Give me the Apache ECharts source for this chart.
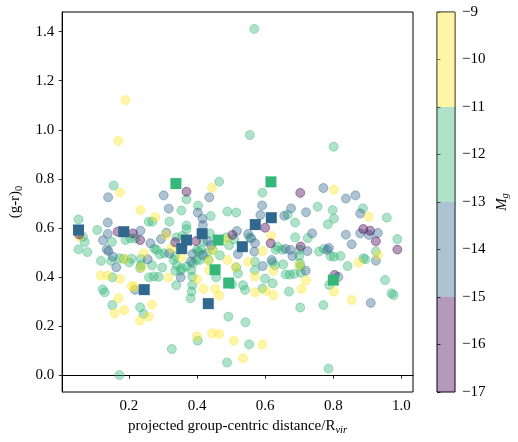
<!DOCTYPE html>
<html>
<head>
<meta charset="utf-8">
<title>colour vs distance</title>
<script src="https://cdn.jsdelivr.net/npm/echarts@6/dist/echarts.min.js"></script>
<style>
  html, body { margin: 0; padding: 0; background: #fff; }
  #chart { width: 518px; height: 442px; }
</style>
</head>
<body>
<div id="chart"></div>
<script>
// galaxies, [distance / Rvir, (g-r)_0], one array per M_g bin
const galBright = [ // -17 .. -15
  [0.369,0.748],[0.703,0.743],[0.054,0.574],[0.167,0.585],[0.212,0.578],[0.233,0.551],[0.336,0.542],
  [0.397,0.547],[0.504,0.572],[0.600,0.601],[0.616,0.538],[0.704,0.525],[0.804,0.409],[0.888,0.596],
  [0.908,0.589],[0.925,0.546],[0.988,0.512]
];
const galMid = [ // -15 .. -13
  [0.139,0.725],[0.302,0.733],[0.436,0.725],[0.771,0.763],[0.837,0.720],[0.865,0.733],
  [0.138,0.622],[0.138,0.576],[0.234,0.589],[0.124,0.550],[0.135,0.513],[0.140,0.506],[0.153,0.483],
  [0.163,0.440],[0.317,0.679],[0.402,0.663],[0.416,0.638],[0.417,0.612],[0.294,0.555],[0.310,0.581],
  [0.263,0.538],[0.255,0.473],[0.319,0.497],[0.352,0.399],[0.218,0.348],[0.382,0.463],[0.387,0.494],
  [0.441,0.530],[0.431,0.547],[0.517,0.588],[0.550,0.576],[0.570,0.538],[0.586,0.653],[0.591,0.692],
  [0.568,0.504],[0.593,0.445],[0.619,0.470],[0.656,0.650],[0.676,0.680],[0.720,0.664],[0.738,0.578],
  [0.680,0.486],[0.724,0.506],[0.660,0.515],[0.719,0.426],[0.787,0.519],[0.782,0.511],[0.815,0.401],
  [0.837,0.573],[0.854,0.534],[0.879,0.659],[0.879,0.578],[0.905,0.572],[0.931,0.580],[0.925,0.467],
  [0.910,0.295],[0.559,0.558],[0.520,0.494],[0.674,0.511],[0.417,0.490]
];
const galFaint = [ // -13 .. -11
  [0.568,1.411],[0.555,0.979],[0.801,0.931],[0.155,0.773],[0.369,0.717],[0.465,0.789],[0.592,0.744],
  [0.052,0.635],[0.065,0.565],[0.070,0.543],[0.052,0.513],[0.078,0.502],[0.107,0.592],[0.150,0.543],
  [0.118,0.466],[0.148,0.466],[0.152,0.399],[0.123,0.350],[0.129,0.338],[0.151,0.286],[0.172,0.001],
  [0.190,0.551],[0.185,0.474],[0.201,0.460],[0.218,0.557],[0.258,0.626],[0.269,0.626],[0.319,0.626],
  [0.354,0.671],[0.369,0.610],[0.369,0.595],[0.340,0.562],[0.208,0.475],[0.235,0.474],[0.275,0.516],
  [0.281,0.511],[0.291,0.493],[0.304,0.497],[0.335,0.486],[0.233,0.437],[0.268,0.448],[0.259,0.399],
  [0.273,0.403],[0.287,0.401],[0.298,0.439],[0.336,0.426],[0.352,0.426],[0.339,0.367],[0.386,0.368],
  [0.384,0.341],[0.381,0.314],[0.233,0.277],[0.243,0.250],[0.326,0.107],[0.383,0.429],[0.386,0.402],
  [0.408,0.470],[0.402,0.141],[0.400,0.511],[0.412,0.511],[0.403,0.691],[0.440,0.649],[0.419,0.544],
  [0.434,0.470],[0.456,0.399],[0.467,0.489],[0.503,0.371],[0.489,0.667],[0.515,0.663],[0.486,0.562],
  [0.494,0.530],[0.515,0.440],[0.520,0.415],[0.492,0.239],[0.542,0.216],[0.553,0.126],[0.488,0.052],
  [0.554,0.562],[0.570,0.463],[0.570,0.429],[0.600,0.394],[0.592,0.354],[0.622,0.375],[0.535,0.367],
  [0.541,0.348],[0.621,0.460],[0.629,0.448],[0.666,0.654],[0.688,0.622],[0.754,0.687],[0.688,0.562],
  [0.725,0.559],[0.700,0.486],[0.701,0.511],[0.650,0.511],[0.636,0.524],[0.653,0.452],[0.702,0.456],
  [0.703,0.443],[0.660,0.411],[0.672,0.410],[0.685,0.413],[0.705,0.418],[0.670,0.341],[0.703,0.276],
  [0.758,0.504],[0.772,0.515],[0.792,0.486],[0.802,0.483],[0.784,0.615],[0.798,0.673],[0.802,0.638],
  [0.788,0.368],[0.771,0.286],[0.786,0.027],[0.887,0.680],[0.957,0.642],[0.988,0.555],[0.925,0.504],
  [0.888,0.477],[0.894,0.473],[0.842,0.445],[0.952,0.388],[0.971,0.334],[0.977,0.327],
  [0.438,0.578],[0.509,0.554],[0.204,0.558],[0.403,0.504],[0.427,0.497],[0.446,0.511],[0.388,0.456],
  [0.398,0.470],[0.331,0.470],[0.340,0.449],[0.235,0.449],[0.355,0.436],[0.369,0.443],[0.631,0.511],
  [0.821,0.486],[0.357,0.568],[0.172,0.477]
];
const galDwarf = [ // -11 .. -9
  [0.190,1.121],[0.169,0.955],[0.174,0.745],[0.444,0.764],[0.802,0.756],[0.054,0.565],
  [0.117,0.406],[0.138,0.406],[0.174,0.392],[0.169,0.314],[0.158,0.253],[0.186,0.266],[0.188,0.474],
  [0.234,0.673],[0.277,0.644],[0.243,0.497],[0.325,0.517],[0.354,0.481],[0.309,0.572],[0.236,0.439],
  [0.316,0.398],[0.208,0.364],[0.216,0.360],[0.268,0.288],[0.258,0.239],[0.232,0.223],[0.400,0.391],
  [0.419,0.352],[0.400,0.158],[0.445,0.508],[0.435,0.467],[0.435,0.429],[0.453,0.352],[0.465,0.325],
  [0.486,0.554],[0.489,0.470],[0.513,0.440],[0.444,0.171],[0.465,0.168],[0.508,0.141],[0.535,0.069],
  [0.618,0.568],[0.592,0.506],[0.570,0.402],[0.551,0.462],[0.571,0.338],[0.602,0.344],[0.624,0.326],
  [0.592,0.125],[0.623,0.426],[0.700,0.448],[0.720,0.387],[0.707,0.352],[0.802,0.341],[0.904,0.646],
  [0.931,0.490],[0.874,0.459],[0.854,0.307]
];
// square markers
const sqMid = [
  [0.052,0.592],[0.185,0.585],[0.369,0.551],[0.355,0.516],[0.415,0.577],[0.533,0.524],[0.571,0.614],
  [0.618,0.642],[0.245,0.349],[0.433,0.292]
];
const sqFaint = [
  [0.338,0.781],[0.617,0.788],[0.462,0.551],[0.453,0.430],[0.493,0.376],[0.800,0.388]
];

const magEdges = [-17, -15, -13, -11, -9];
const rTicks = [0.2, 0.4, 0.6, 0.8, 1.0];
const grTicks = [0.0, 0.2, 0.4, 0.6, 0.8, 1.0, 1.2, 1.4];
const viridis4 = ['#440154', '#31688e', '#35b779', '#fde725'];

const FONT = '"Liberation Serif", "DejaVu Serif", serif';
const INK = '#000';

const chart = echarts.init(document.getElementById('chart'), null, { renderer: 'canvas' });

function circles(data, color) {
  return {
    type: 'scatter', xAxisIndex: 0, yAxisIndex: 0, data: data,
    symbol: 'circle', symbolSize: 9, silent: true,
    itemStyle: { color: color, borderColor: color, borderWidth: 1, opacity: 0.4 }
  };
}
function squares(data, color) {
  return {
    type: 'scatter', xAxisIndex: 0, yAxisIndex: 0, data: data,
    symbol: 'rect', symbolSize: 11, silent: true, z: 5,
    itemStyle: { color: color, opacity: 1 }
  };
}

const tickStyle = { show: true, inside: false, length: 3.5, lineStyle: { color: INK, width: 0.8 } };
const labelFont = { fontFamily: FONT, fontSize: 15, color: INK };

chart.setOption({
  animation: false,
  backgroundColor: '#fff',
  grid: [
    { left: 56, top: 12, width: 357, height: 380, show: true, borderColor: INK, borderWidth: 1, backgroundColor: 'transparent' },
    { left: 437, top: 12, width: 18, height: 380, show: true, borderColor: INK, borderWidth: 1, backgroundColor: 'transparent' }
  ],
  xAxis: [
    {
      gridIndex: 0, type: 'value', min: 0.004, max: 1.034,
      splitLine: { show: false },
      axisLine: { show: true, lineStyle: { color: INK, width: 1 } },
      axisTick: Object.assign({ customValues: rTicks }, tickStyle),
      axisLabel: Object.assign({ customValues: rTicks, margin: 7, formatter: v => v.toFixed(1) }, labelFont),
      name: '{a|projected group-centric distance/R}{s|vir}',
      nameLocation: 'middle', nameGap: 16,
      nameTextStyle: {
        rich: {
          a: { fontFamily: FONT, fontSize: 15, color: INK, lineHeight: 18 },
          s: { fontFamily: FONT, fontSize: 10.5, fontStyle: 'italic', color: INK, lineHeight: 11, verticalAlign: 'bottom' }
        }
      }
    },
    { gridIndex: 1, type: 'value', min: 0, max: 1, show: false }
  ],
  yAxis: [
    {
      gridIndex: 0, type: 'value', min: -0.068, max: 1.48,
      splitLine: { show: false },
      axisLine: { show: true, lineStyle: { color: INK, width: 1 } },
      axisTick: Object.assign({ customValues: grTicks }, tickStyle),
      axisLabel: Object.assign({ customValues: grTicks, margin: 8, formatter: v => v.toFixed(1) }, labelFont),
      name: '{a|(g-r)}{s|0}',
      nameLocation: 'middle', nameRotate: 90, nameGap: 37,
      nameTextStyle: {
        rich: {
          a: { fontFamily: FONT, fontSize: 15, color: INK, lineHeight: 18 },
          s: { fontFamily: FONT, fontSize: 10.5, color: INK, lineHeight: 11, verticalAlign: 'bottom' }
        }
      }
    },
    {
      gridIndex: 1, type: 'value', position: 'right', min: -17, max: -9, interval: 1,
      splitLine: { show: false },
      axisLine: { show: false },
      axisTick: tickStyle,
      axisLabel: Object.assign({ margin: 7, formatter: v => (v < 0 ? '\u2212' : '') + Math.abs(v) }, labelFont),
      name: '{i|M}{s|g}',
      nameLocation: 'middle', nameRotate: 90, nameGap: 38,
      nameTextStyle: {
        rich: {
          i: { fontFamily: FONT, fontSize: 15, fontStyle: 'italic', color: INK, lineHeight: 18 },
          s: { fontFamily: FONT, fontSize: 10.5, fontStyle: 'italic', color: INK, lineHeight: 11, verticalAlign: 'bottom' }
        }
      }
    }
  ],
  series: [
    circles(galFaint, viridis4[2]),
    circles(galMid, viridis4[1]),
    circles(galDwarf, viridis4[3]),
    circles(galBright, viridis4[0]),
    squares(sqMid, viridis4[1]),
    squares(sqFaint, viridis4[2]),
    {
      // colour bar bands
      type: 'custom', xAxisIndex: 1, yAxisIndex: 1, silent: true, z: 1,
      data: magEdges.slice(0, -1).map((lo, i) => [lo, magEdges[i + 1], i]),
      encode: { y: [0, 1] },
      renderItem: function (params, api) {
        const p0 = api.coord([0, api.value(0)]);
        const p1 = api.coord([1, api.value(1)]);
        return {
          type: 'rect',
          shape: { x: p0[0], y: p1[1], width: p1[0] - p0[0], height: p0[1] - p1[1] },
          style: { fill: viridis4[api.value(2)], opacity: 0.4 }
        };
      }
    }
  ]
});
</script>
</body>
</html>
